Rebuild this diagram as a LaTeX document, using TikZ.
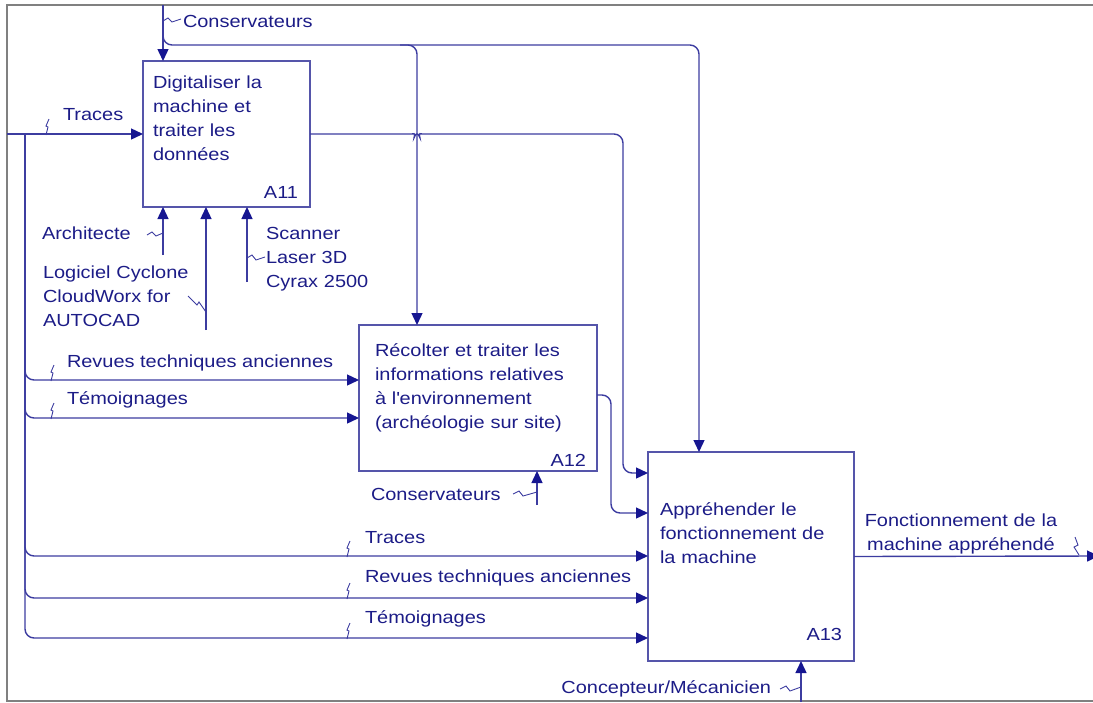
\documentclass[tikz,border=0pt]{standalone}
\usepackage{fontspec}
\setmainfont[FakeStretch=1.14]{Liberation Sans}
\usetikzlibrary{arrows.meta}
\definecolor{ink}{RGB}{28,28,135}
\definecolor{wire}{RGB}{60,60,160}
\definecolor{tipc}{RGB}{22,22,145}
\definecolor{boxc}{RGB}{85,85,170}
\definecolor{framec}{RGB}{128,128,128}
\begin{document}
\begin{tikzpicture}[x=1pt,y=-1pt,
  every node/.style={inner sep=0pt, outer sep=0pt, text=ink, font=\fontsize{17.5}{24}\selectfont},
  lbl/.style={anchor=base west},
  lblr/.style={anchor=base east},
  multi/.style={text width=230pt, align=left, anchor=base west},
  wirel/.style={draw=wire, line width=1.4pt, rounded corners=9pt},
  arr/.style={-{Triangle[length=12pt,width=11pt,color=tipc]}},
  sq/.style={draw=wire, line width=0.9pt, rounded corners=0pt},
  actbox/.style={draw=boxc, line width=1.4pt, fill=white},
  zig/.pic={\draw[sq] (-1,1) -- (1,-7) -- (-1,-8) -- (2,-15);}
]
\useasboundingbox (0,0) rectangle (1093,702);
% frame
\draw[framec, line width=2.5pt] (1100,5) -- (7,5) -- (7,701) -- (1100,701);

% activity boxes
\node[actbox, minimum width=167pt, minimum height=146pt] (a11) at (226.5,134) {};
\node[actbox, minimum width=238pt, minimum height=146pt] (a12) at (478,398) {};
\node[actbox, minimum width=206pt, minimum height=209pt] (a13) at (751,556.5) {};

\node[multi] (t11) at (153,88) {Digitaliser la\\machine et\\traiter les\\données};
\node[lblr] (n11) at (298,198) {A11};
\node[multi] (t12) at (375,356) {Récolter et traiter les\\informations relatives\\à l\textquotesingle environnement\\(archéologie sur site)};
\node[lblr] (n12) at (586,466) {A12};
\node[multi] (t13) at (660,515) {Appréhender le\\fonctionnement de\\la machine};
\node[lblr] (n13) at (842,640) {A13};

% free-end coordinates
\coordinate (topC) at (163,5);
\coordinate (xb) at (417,45);
\coordinate (xd) at (699,45);
\coordinate (trIn) at (7,134);
\coordinate (busTop) at (25,135);
\coordinate (yRev1) at (0,380);
\coordinate (yTem1) at (0,418);
\coordinate (yTr2) at (0,556);
\coordinate (yRev2) at (0,598);
\coordinate (yTem2) at (0,638);
\coordinate (yO11) at (0,473);
\coordinate (yO12) at (0,513);
\coordinate (mArch) at (163,255);
\coordinate (mLog) at (206,330);
\coordinate (mScan) at (247,282);
\coordinate (mCons) at (537,505);
\coordinate (mConc) at (801,702);
\coordinate (outEnd) at (1099,556);

% controls
\draw[wirel,arr] (topC) -- (topC |- a11.north);
\draw[wirel,arr] (163,20) |- (xb) -- (xb |- a12.north);
\draw[wirel,arr] (400,45) -- (xd) -- (xd |- a13.north);

% inputs
\draw[wirel,arr] (trIn) -- (trIn -| a11.west);
\draw[wirel,arr] (busTop) |- (yRev1 -| a12.west);
\draw[wirel,arr] (busTop) |- (yTem1 -| a12.west);
\draw[wirel,arr] (busTop) |- (yTr2 -| a13.west);
\draw[wirel,arr] (busTop) |- (yRev2 -| a13.west);
\draw[wirel,arr] (busTop) |- (yTem2 -| a13.west);

% A11 output with hop over the control line
\draw[wirel,arr] (a11.east) -- (405,134) .. controls (412,134) and (416,132) .. (417,129)
   .. controls (418,132) and (422,134) .. (429,134) -- (623,134) -- (623,473) -- (yO11 -| a13.west);
% A12 output
\draw[wirel,arr] (a12.east |- 0,395) -- (611,395) -- (611,513) -- (yO12 -| a13.west);

% mechanisms
\draw[wirel,arr] (mArch) -- (mArch |- a11.south);
\draw[wirel,arr] (mLog) -- (mLog |- a11.south);
\draw[wirel,arr] (mScan) -- (mScan |- a11.south);
\draw[wirel,arr] (mCons) -- (mCons |- a12.south);
\draw[wirel,arr] (mConc) -- (mConc |- a13.south);

% output
\draw[wirel,arr] (a13.east) -- (outEnd);

% labels
\node[lbl] (lCons1) at (183,27) {Conservateurs};
\draw[sq] (163,21) -- (168,18) -- (172,22) -- (181,19);
\node[lbl] (lTr1) at (63,120) {Traces};
\pic at (47,134) {zig};
\node[lbl] (lArch) at (42,239) {Architecte};
\draw[sq] (147,235) -- (152,232) -- (156,236) -- (163,233);
\node[multi] (lLog) at (43,278) {Logiciel Cyclone\\CloudWorx for\\AUTOCAD};
\draw[sq] (188,296) -- (197,305) -- (199,302) -- (206,312);
\node[multi] (lScan) at (266,239) {Scanner\\Laser 3D\\Cyrax 2500};
\draw[sq] (247,258) -- (252,255) -- (256,260) -- (265,257);
\node[lbl] (lRev1) at (67,367) {Revues techniques anciennes};
\pic at (52,380) {zig};
\node[lbl] (lTem1) at (67,404) {Témoignages};
\pic at (52,418) {zig};
\node[lbl] (lCons2) at (371,500) {Conservateurs};
\draw[sq] (513,494) -- (519,491) -- (523,496) -- (537,492);
\node[lbl] (lTr2) at (365,543) {Traces};
\pic at (348,556) {zig};
\node[lbl] (lRev2) at (365,582) {Revues techniques anciennes};
\pic at (348,598) {zig};
\node[lbl] (lTem2) at (365,623) {Témoignages};
\pic at (348,638) {zig};
\node[lblr] (lConc) at (771,693) {Concepteur/Mécanicien};
\draw[sq] (780,689) -- (786,686) -- (790,691) -- (801,687);
\node[text width=220pt, align=center, anchor=base] (lOut) at (961,526) {Fonctionnement de la\\machine appréhendé};
\draw[sq] (1075,537) -- (1078,545) -- (1074,547) -- (1079,555);
\end{tikzpicture}
\end{document}
